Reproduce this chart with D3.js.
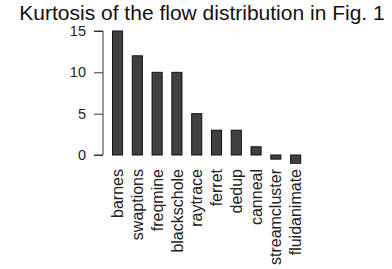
<!DOCTYPE html>
<html>
<head>
<meta charset="utf-8">
<script src="https://cdn.jsdelivr.net/npm/d3@7"></script>
<style>
  body { margin: 0; background: #fff; }
  text { font-family: "Liberation Sans", Arial, sans-serif; }
</style>
</head>
<body>
<script>
var categories = ["barnes", "swaptions", "freqmine", "blackschole", "raytrace",
                  "ferret", "dedup", "canneal", "streamcluster", "fluidanimate"];
var kurtosis = [15, 12, 10, 10, 5, 3, 3, 1, -0.5, -1];
var yTicks = [0, 5, 10, 15];

var svg = d3.select("body").append("svg")
    .attr("width", 392)
    .attr("height", 269);

svg.append("text")
    .attr("x", 202)
    .attr("y", 20)
    .attr("text-anchor", "middle")
    .attr("font-size", 21)
    .attr("fill", "#111")
    .text("Kurtosis of the flow distribution in Fig. 1");

var x = d3.scaleBand()
    .domain(categories)
    .range([112.5, 300.7])
    .paddingInner(0.49)
    .paddingOuter(0);

var y = d3.scaleLinear()
    .domain([0, 15])
    .range([155, 31]);

// y axis, R style
var yAxis = svg.append("g")
    .attr("transform", "translate(103,0)")
    .call(d3.axisLeft(y).tickValues(yTicks).tickSize(9).tickPadding(8));
yAxis.select(".domain").attr("stroke", "#333").attr("d", "M-9," + y(15) + "H0V" + y(0) + "H-9");
yAxis.selectAll(".tick line").attr("stroke", "#333");
yAxis.selectAll(".tick text")
    .attr("font-size", 14.5)
    .attr("font-family", "Liberation Sans, Arial, sans-serif")
    .attr("fill", "#222");

svg.selectAll("rect.bar")
    .data(kurtosis)
    .enter().append("rect")
    .attr("class", "bar")
    .attr("x", function(d, i){ return x(categories[i]); })
    .attr("width", x.bandwidth())
    .attr("y", function(d){ return Math.min(y(d), y(0)); })
    .attr("height", function(d){ return Math.abs(y(d) - y(0)); })
    .attr("fill", "#404040")
    .attr("stroke", "#111")
    .attr("stroke-width", 1);

svg.selectAll("text.cat")
    .data(categories)
    .enter().append("text")
    .attr("class", "cat")
    .attr("transform", function(d){
        return "translate(" + (x(d) + x.bandwidth() / 2) + ",169) rotate(-90)";
    })
    .attr("text-anchor", "end")
    .attr("dy", "0.35em")
    .attr("font-size", 16)
    .attr("fill", "#222")
    .text(function(d){ return d; });
</script>
</body>
</html>
